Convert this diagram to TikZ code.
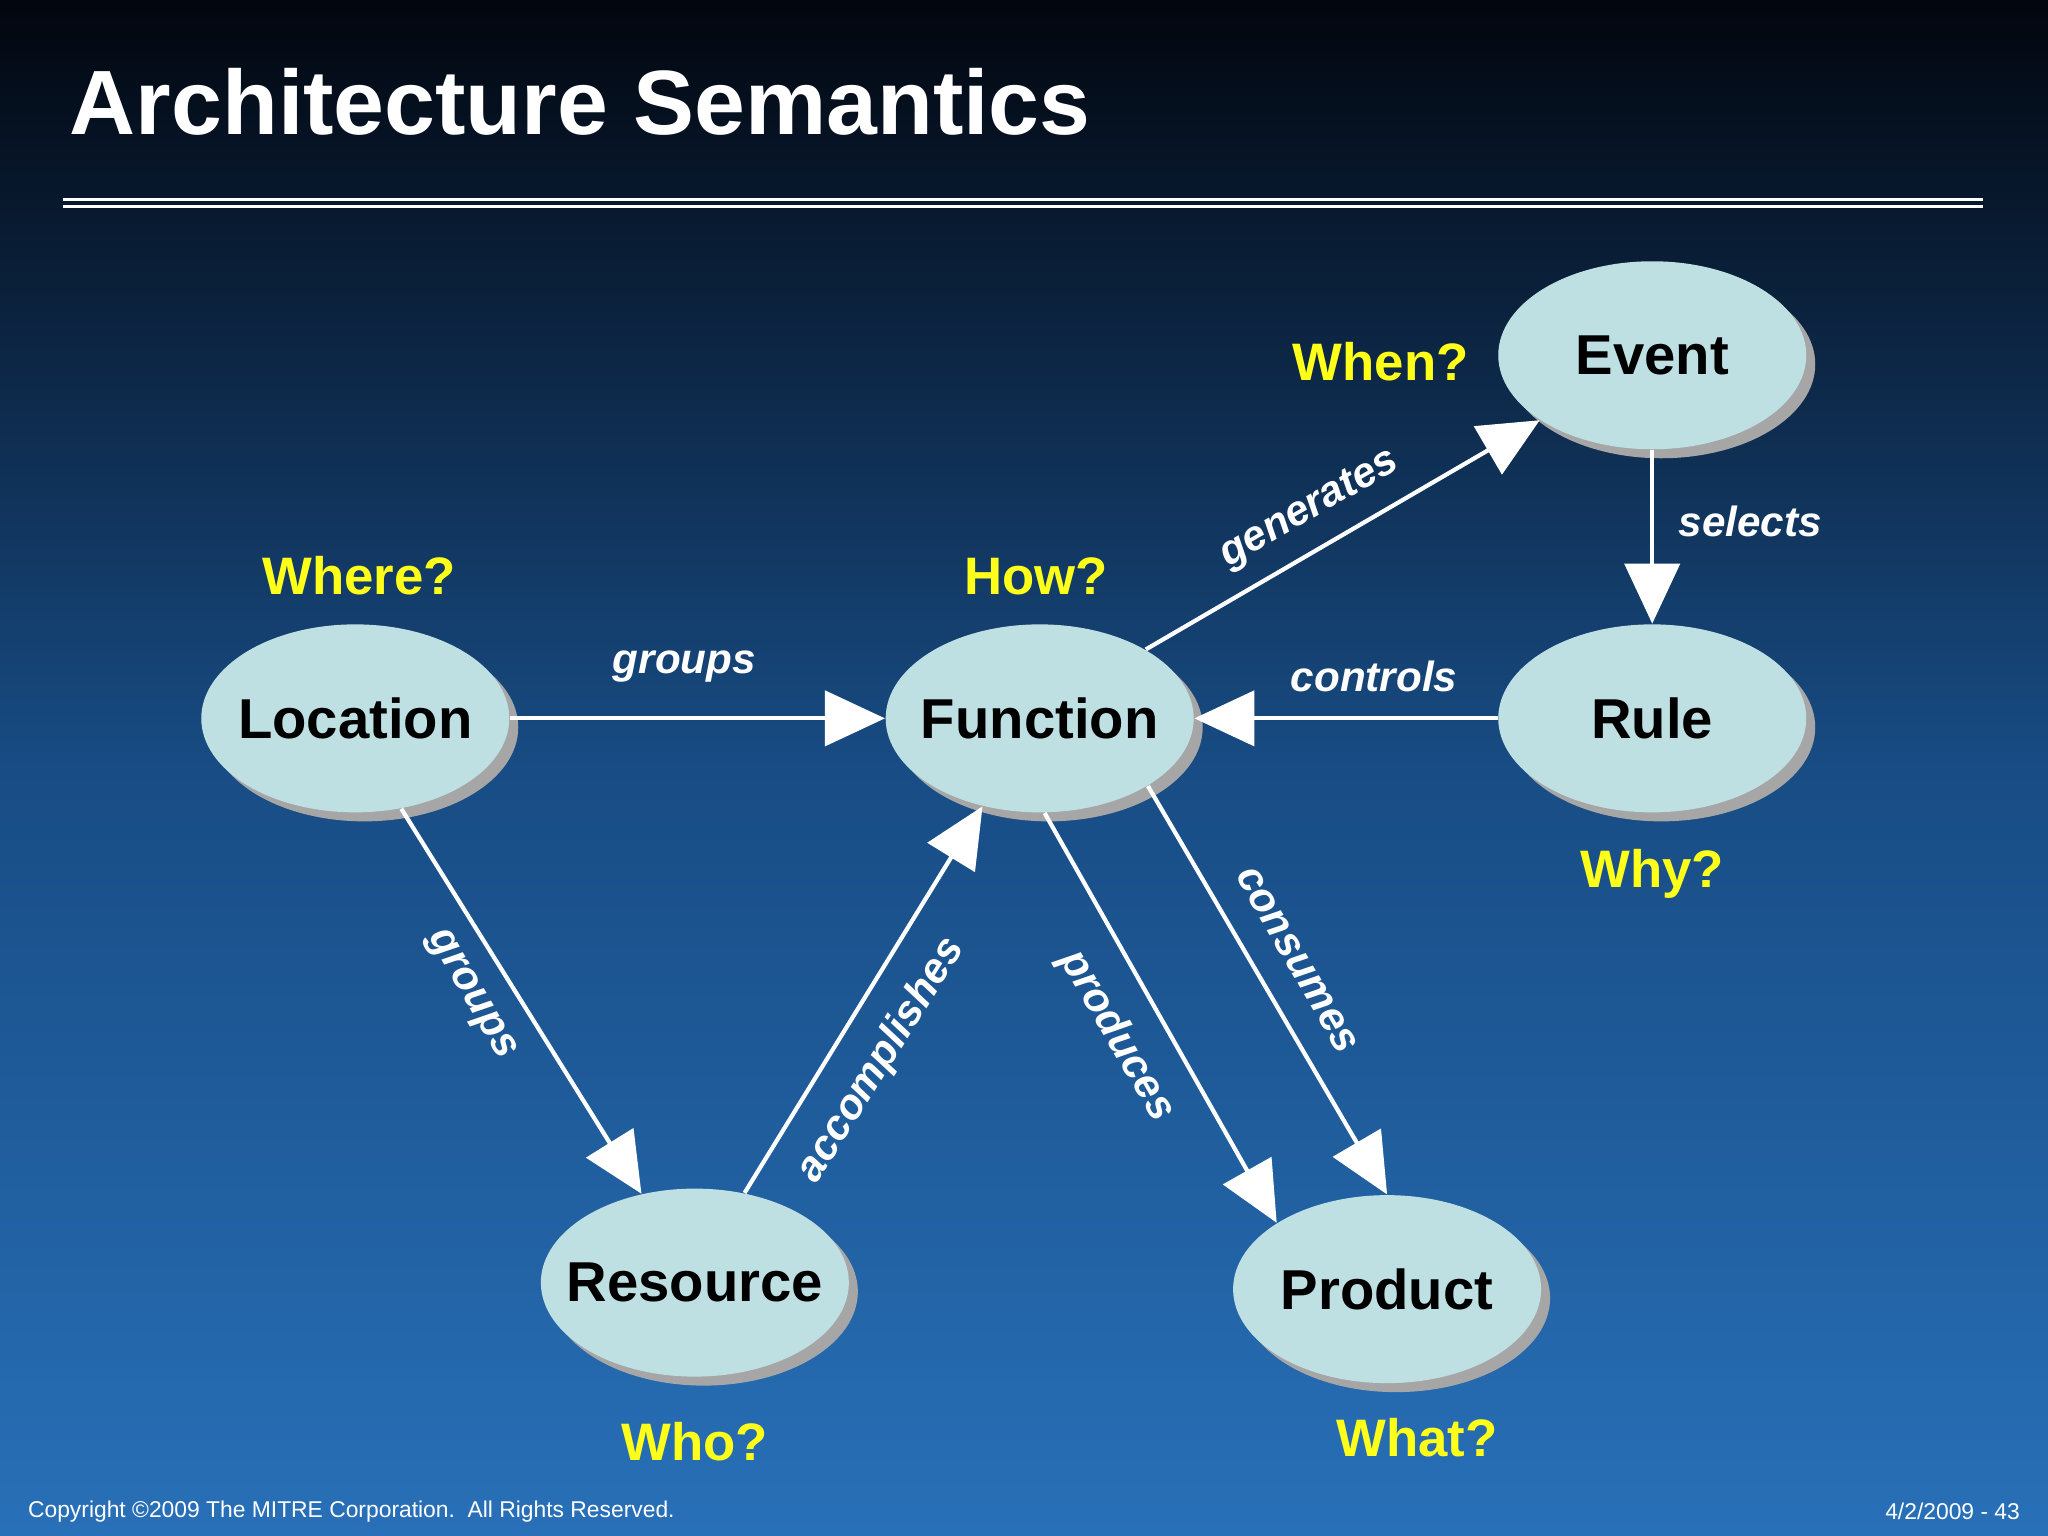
\documentclass[tikz,border=0pt]{standalone}
\usepackage{fontspec}
\setmainfont{Liberation Sans}
\usetikzlibrary{shapes.geometric,arrows.meta,shadows}
\definecolor{nodefill}{HTML}{BFE0E3}
\definecolor{qy}{HTML}{FFFF1A}
\begin{document}
\begin{tikzpicture}[x=0.013061cm,y=-0.013061cm,
  ent/.style={ellipse,fill=nodefill,minimum width=3.08cm,minimum height=1.88cm,inner xsep=-0.2cm,inner ysep=0pt,
    font=\fontsize{16}{18}\selectfont\bfseries,text=black,
    drop shadow={shadow xshift=0.9mm,shadow yshift=-0.9mm,fill=gray!70,opacity=1}},
  q/.style={text=qy,font=\fontsize{15}{17}\selectfont\bfseries},
  lab/.style={text=white,font=\fontsize{12}{14}\selectfont\bfseries\itshape},
  arr/.style={draw=white,line width=1.2pt,-{Triangle[length=0.6cm,width=0.55cm]}}]
\shade[top color={rgb,255:red,2;green,6;blue,14},bottom color={rgb,255:red,40;green,112;blue,184},middle color={rgb,255:red,24;green,76;blue,132}] (0,0) rectangle (1568,1176);
\useasboundingbox (0,0) rectangle (1568,1176);
\node[anchor=west,text=white,font=\fontsize{26}{29}\selectfont\bfseries] (title) at (44,78) {Architecture Semantics};
\draw[white,line width=0.8pt] (48,153) -- (1518,153);
\draw[white,line width=0.8pt] (48,158) -- (1518,158);

\node[ent] (event) at (1265,272) {Event};
\node[ent] (loc) at (272,550) {Location};
\node[ent] (fun) at (796,550) {Function};
\node[ent] (rule) at (1265,550) {Rule};
\node[ent] (res) at (532,982) {Resource};
\node[ent] (prod) at (1062,987) {Product};

\node[q] (qwhen) at (1057,277) {When?};
\node[q] (qwhere) at (275,441) {Where?};
\node[q] (qhow) at (793,441) {How?};
\node[q] (qwhy) at (1265,669) {Why?};
\node[q] (qwho) at (532,1104) {Who?};
\node[q] (qwhat) at (1085,1101) {What?};

\draw[arr] (loc.east) -- (fun.west);
\draw[arr] (rule.west) -- (fun.east);
\draw[arr] (event.south) -- (rule.north);
\draw[arr] (fun.33) -- (event.210);
\draw[arr] (loc.-63) -- (res.121);
\draw[arr] (res.61) -- (fun.-123);
\draw[arr] (fun.-87) -- (prod.149);
\draw[arr] (fun.-32) -- (prod.90);

\node[lab] (l1) at (524,510) {groups};
\node[lab] (l2) at (1052,518) {controls};
\node[lab] (l3) at (1340,399) {selects};
\node[lab,rotate=30] (l4) at (1003,390) {generates};
\node[lab,rotate=-60] (l5) at (360,762) {groups};
\node[lab,rotate=58] (l6) at (675,812) {accomplishes};
\node[lab,rotate=-60] (l7) at (855,793) {produces};
\node[lab,rotate=-60] (l8) at (993,735) {consumes};

\node[anchor=west,text=white,font=\fontsize{6.5}{8}\selectfont] (copy) at (12,1157) {Copyright ©2009 The MITRE Corporation.\ \ All Rights Reserved.};
\node[anchor=east,text=white,font=\fontsize{6.5}{8}\selectfont] (date) at (1556,1157) {4/2/2009 - 43};
\end{tikzpicture}
\end{document}
